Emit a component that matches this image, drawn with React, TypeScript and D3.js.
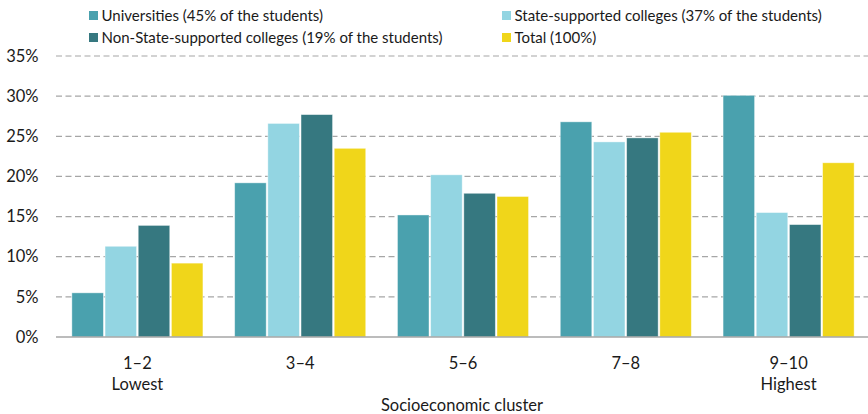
import React from "react";
import * as d3 from "d3";

// Share of students per socioeconomic cluster, by institution type (%)
const clusters = ["1–2", "3–4", "5–6", "7–8", "9–10"];
const clusterSubLabels = ["Lowest", "", "", "", "Highest"];
const seriesNames = [
  "Universities (45% of the students)",
  "State-supported colleges (37% of the students)",
  "Non-State-supported colleges (19% of the students)",
  "Total (100%)",
];
const universities = [5.5, 19.2, 15.2, 26.8, 30.1];
const stateSupported = [11.3, 26.6, 20.2, 24.3, 15.5];
const nonStateSupported = [13.9, 27.7, 17.9, 24.8, 14.0];
const total = [9.2, 23.5, 17.5, 25.5, 21.7];
const yTicks = [0, 5, 10, 15, 20, 25, 30, 35];
const xAxisTitle = "Socioeconomic cluster";

const colors = ["#4aa1ae", "#93d5e2", "#367880", "#f0d61a"];
const seriesValues = [universities, stateSupported, nonStateSupported, total];

const W = 868;
const H = 414;
const margin = { left: 56, right: -2, top: 56, bottom: 77 };
const FONT = "Lato, 'Open Sans', sans-serif";
const TEXT = "#1a1a1a";

export default function App() {
  const x0 = d3
    .scaleBand<string>()
    .domain(clusters)
    .range([margin.left, W - margin.right])
    .paddingInner(0.195)
    .paddingOuter(0.0975);
  const x1 = d3
    .scaleBand<number>()
    .domain(d3.range(seriesNames.length))
    .range([0, x0.bandwidth()])
    .paddingInner(0.05);
  const y = d3
    .scaleLinear()
    .domain([0, 35])
    .range([H - margin.bottom, margin.top]);

  const legendItems = seriesNames.map((name, i) => ({
    name,
    color: colors[i],
    x: i % 2 === 0 ? 89 : 502,
    y: i < 2 ? 11 : 33,
  }));

  return (
    <svg
      width={W}
      height={H}
      style={{ position: "absolute", left: 0, top: 0, background: "#fff" }}
      fontFamily={FONT}
    >
      {/* gridlines */}
      {yTicks
        .filter((t) => t > 0)
        .map((t) => (
          <line
            key={t}
            x1={margin.left}
            x2={W}
            y1={y(t)}
            y2={y(t)}
            stroke="#a6a6a6"
            strokeWidth={1.2}
            strokeDasharray="6,3.5"
          />
        ))}
      {/* y tick labels */}
      {yTicks.map((t) => (
        <text
          key={t}
          x={38.5}
          y={y(t)}
          dy="0.35em"
          textAnchor="end"
          fontSize={16.5}
          fill={TEXT}
        >
          {t}%
        </text>
      ))}
      {/* bars */}
      {clusters.map((c, ci) => (
        <g key={c} transform={`translate(${x0(c)},0)`}>
          {seriesValues.map((vals, si) => (
            <rect
              key={si}
              x={x1(si)}
              y={y(vals[ci])}
              width={x1.bandwidth()}
              height={y(0) - y(vals[ci])}
              fill={colors[si]}
              stroke="#ffffff"
              strokeOpacity={0.5}
              strokeWidth={0.8}
            />
          ))}
        </g>
      ))}
      {/* baseline */}
      <line
        x1={margin.left}
        x2={W}
        y1={y(0)}
        y2={y(0)}
        stroke="#a6a6a6"
        strokeWidth={1.5}
      />
      {/* x labels */}
      {clusters.map((c, ci) => (
        <g key={c}>
          <text
            x={x0(c)! + x0.bandwidth() / 2}
            y={363}
            dy="0.35em"
            textAnchor="middle"
            fontSize={16.5}
            fill={TEXT}
          >
            {c}
          </text>
          {clusterSubLabels[ci] && (
            <text
              x={x0(c)! + x0.bandwidth() / 2}
              y={384}
              dy="0.35em"
              textAnchor="middle"
              fontSize={16.5}
              fill={TEXT}
            >
              {clusterSubLabels[ci]}
            </text>
          )}
        </g>
      ))}
      <text
        x={(margin.left + W) / 2}
        y={405}
        dy="0.35em"
        textAnchor="middle"
        fontSize={16.5}
        fill={TEXT}
      >
        {xAxisTitle}
      </text>
      {/* legend */}
      {legendItems.map((it) => (
        <g key={it.name}>
          <rect x={it.x} y={it.y} width={9} height={9} fill={it.color} />
          <text
            x={it.x + 12.5}
            y={it.y + 4.5}
            dy="0.35em"
            fontSize={15}
            fill={TEXT}
          >
            {it.name}
          </text>
        </g>
      ))}
    </svg>
  );
}
